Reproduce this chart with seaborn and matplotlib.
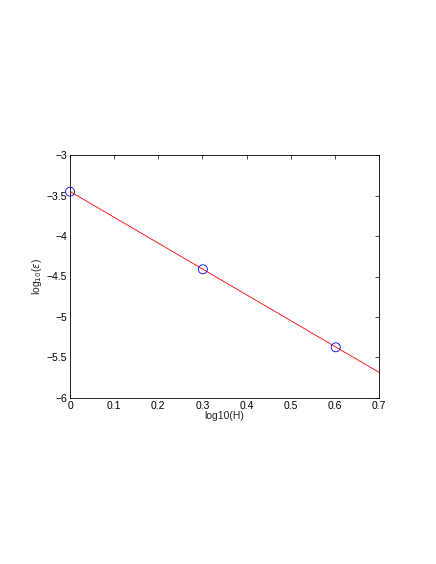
import matplotlib
matplotlib.use("Agg")
import matplotlib.pyplot as plt
import seaborn as sns

# punti misurati: log10(H) e log10(errore)
log_h = [0.0, 0.301, 0.602]
log_err = [-3.453, -4.411, -5.374]

# retta di fit (estremi)
fit_x = [0.0, 0.7]
fit_y = [-3.45, -5.683]

x_ticks = [0, 0.1, 0.2, 0.3, 0.4, 0.5, 0.6, 0.7]
y_ticks = [-6, -5.5, -5, -4.5, -4, -3.5, -3]

sns.set_style("white")
plt.rcParams["font.family"] = ["Liberation Sans", "DejaVu Sans"]
plt.rcParams["axes.unicode_minus"] = True

fig = plt.figure(figsize=(4.36, 5.64), dpi=100)
ax = fig.add_axes([70 / 436, (564 - 398) / 564, 309 / 436, 243 / 564])

sns.lineplot(x=fit_x, y=fit_y, color="red", linewidth=0.6, ax=ax)
sns.scatterplot(x=log_h, y=log_err, marker="o", s=42, facecolor="none",
                edgecolor="blue", linewidth=0.6, ax=ax, zorder=3, clip_on=False)

ax.set_xlim(0, 0.7)
ax.set_ylim(-6, -3)
ax.set_xticks(x_ticks)
ax.set_yticks(y_ticks)
ax.set_xticklabels([f"{t:g}" for t in x_ticks])
ax.set_yticklabels([f"{t:g}".replace("-", "\u2212") for t in y_ticks])
ax.tick_params(direction="in", length=3, width=0.5, labelsize=7.5,
               top=True, right=True, colors="black", pad=2)
for s in ax.spines.values():
    s.set_visible(True)
    s.set_color("black")
    s.set_linewidth(0.6)

ax.set_xlabel("log10(H)", fontsize=7.5, labelpad=0)
ax.set_ylabel(r"log$_{10}$($\varepsilon$)", fontsize=7.5, labelpad=2)

fig.savefig("out.png", dpi=100, facecolor="white")
